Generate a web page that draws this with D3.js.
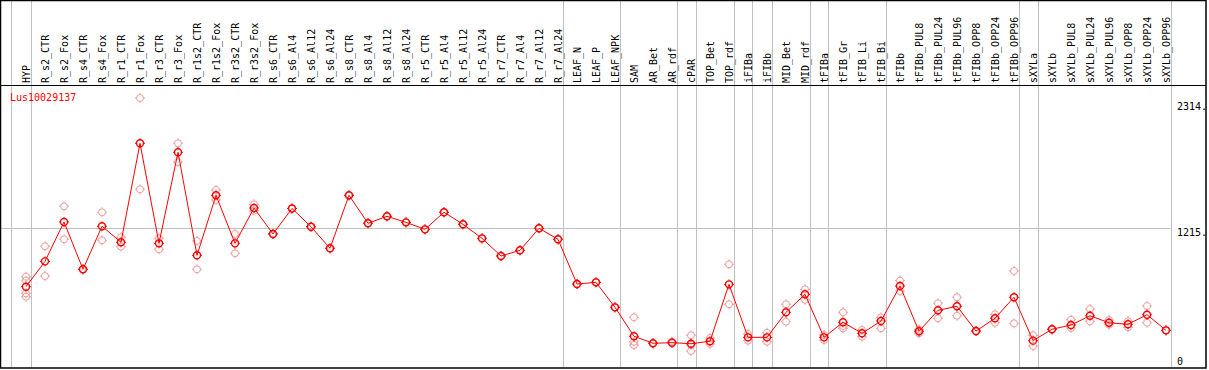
<!DOCTYPE html>
<html>
<head>
<meta charset="utf-8">
<script src="https://cdn.jsdelivr.net/npm/d3@7"></script>
<style>
  body { margin: 0; background: #fff; }
  text { font-family: "DejaVu Sans Mono", monospace; font-size: 10px; }
</style>
</head>
<body>
<div id="chart"></div>
<script>
var gene = "Lus10029137";

var categories = ["HYP","R_s2_CTR","R_s2_Fox","R_s4_CTR","R_s4_Fox","R_r1_CTR","R_r1_Fox","R_r3_CTR","R_r3_Fox",
  "R_r1s2_CTR","R_r1s2_Fox","R_r3s2_CTR","R_r3s2_Fox","R_s6_CTR","R_s6_Al4","R_s6_Al12","R_s6_Al24",
  "R_s8_CTR","R_s8_Al4","R_s8_Al12","R_s8_Al24","R_r5_CTR","R_r5_Al4","R_r5_Al12","R_r5_Al24",
  "R_r7_CTR","R_r7_Al4","R_r7_Al12","R_r7_Al24","LEAF_N","LEAF_P","LEAF_NPK","SAM","AR_Bet","AR_rdf",
  "cPAR","TOP_Bet","TOP_rdf","iFIBa","iFIBb","MID_Bet","MID_rdf","tFIBa","tFIB_Gr","tFIB_Li","tFIB_Bi",
  "tFIBb","tFIBb_PUL8","tFIBb_PUL24","tFIBb_PUL96","tFIBb_OPP8","tFIBb_OPP24","tFIBb_OPP96",
  "sXYLa","sXYLb","sXYLb_PUL8","sXYLb_PUL24","sXYLb_PUL96","sXYLb_OPP8","sXYLb_OPP24","sXYLb_OPP96"];

var means = [722,936,1268,869,1232,1097,1932,1088,1856,987,1493,1088,1386,1167,1382,1228,1046,
  1493,1257,1316,1265,1206,1350,1249,1130,981,1029,1215,1122,745,759,548,304,245,250,
  241,262,742,295,295,506,658,295,422,329,433,728,346,523,557,348,456,633,
  267,363,399,477,418,405,486,354];

// replicate values per category
var reps = [[806,773,666,638],[1063,812],[1400,1122],[869,869],[1350,1114],[1139,1060],[2314,1544],
  [1130,1038],[1932,1774],[1108,869],[1538,1454],[1167,1004],[1417,1363],[1167,1167],[1382,1382],
  [1228,1228],[1046,1046],[1493,1493],[1257,1257],[1316,1316],[1265,1265],[1206,1206],[1350,1350],
  [1249,1249],[1130,1130],[981,981],[1029,1029],[1215,1215],[1122,1122],[745,745],[759,759],[548,548],
  [464,258,230],[245,245],[258,245],[312,180,232],[289,239],[911,574],[323,267],[334,258],[574,427],
  [700,612],[315,272],[506,371,391],[357,300],[464,371],[773,686],[329,360],[582,456],[633,477],
  [348,348],[489,418],[855,413],[312,222],[363,363],[444,374],[534,430],[441,401],[430,380],[559,418],[354,354]];

// last column index of each group (vertical separators)
var groupEnds = [-1, 0, 28, 31, 34, 35, 37, 38, 39, 41, 42, 45, 52, 53, 60];

var yTicks = [0, 1215, 2314];

var W = 1209, H = 370, headerY = 85, right = 1206, bottom = 368;

var svg = d3.select("#chart").append("svg")
  .attr("width", W).attr("height", H);

var x = d3.scaleLinear().domain([0, categories.length - 1]).range([26, 1166]);
var y = d3.scaleLinear().domain([0, 2314]).range([372.3, 98]);

// horizontal grid
svg.selectAll(".hgrid").data(yTicks.filter(function(d){ return d > 0 && d < 2314; }))
  .enter().append("line")
  .attr("x1", 0).attr("x2", x(categories.length - 1) + 4.5)
  .attr("y1", function(d){ return Math.round(y(d)) + 0.5; })
  .attr("y2", function(d){ return Math.round(y(d)) + 0.5; })
  .attr("stroke", "#c0c0c0");

// vertical group lines
svg.selectAll(".vgrid").data(groupEnds).enter().append("line")
  .attr("x1", function(d){ return Math.round(x(d) + 4.5) + 0.5; })
  .attr("x2", function(d){ return Math.round(x(d) + 4.5) + 0.5; })
  .attr("y1", 0).attr("y2", bottom)
  .attr("stroke", "#c0c0c0");

// frame
svg.append("rect").attr("x", 0.5).attr("y", 0.5)
  .attr("width", right - 0.5).attr("height", bottom - 0.5)
  .attr("fill", "none").attr("stroke", "#000").attr("stroke-width", 1.5);
svg.append("line").attr("x1", 0).attr("x2", right).attr("y1", headerY + 0.5).attr("y2", headerY + 0.5)
  .attr("stroke", "#000");

// column labels
svg.selectAll(".lab").data(categories).enter().append("text")
  .attr("transform", function(d, i){ return "translate(" + (x(i) + 4) + "," + (headerY - 2) + ") rotate(-90)"; })
  .attr("fill", "#000")
  .text(function(d){ return d; });

// y labels
svg.selectAll(".ylab").data(yTicks).enter().append("text")
  .attr("x", 1177)
  .attr("y", function(d){ return Math.min(Math.max(y(d) + 8, 110), 365); })
  .attr("fill", "#000")
  .text(function(d){ return d > 0 ? d + "." : d; });

svg.append("text").attr("x", 10).attr("y", 101).attr("fill", "#ff0000").text(gene);

function marker(sel, color, sw) {
  sel.append("circle").attr("r", 3.5).attr("fill", "none").attr("stroke", color).attr("stroke-width", sw);
  sel.append("path")
    .attr("d", "M0,-3.5V-5M0,3.5V5M-3.5,0H-5M3.5,0H5")
    .attr("stroke", color).attr("stroke-width", 1);
}

// replicates
var repPts = [];
reps.forEach(function(r, i){ r.forEach(function(v){ repPts.push({i: i, v: v}); }); });
svg.selectAll(".rep").data(repPts).enter().append("g")
  .attr("transform", function(d){ return "translate(" + x(d.i) + "," + y(d.v) + ")"; })
  .call(marker, "#f09a9a", 1);

// means
svg.selectAll(".mean").data(means).enter().append("g")
  .attr("transform", function(d, i){ return "translate(" + x(i) + "," + y(d) + ")"; })
  .call(marker, "#ff0000", 1.4);

var line = d3.line().x(function(d, i){ return x(i); }).y(function(d){ return y(d); });
svg.append("path").datum(means).attr("d", line)
  .attr("fill", "none").attr("stroke", "#ff0000").attr("stroke-width", 1);
</script>
</body>
</html>
